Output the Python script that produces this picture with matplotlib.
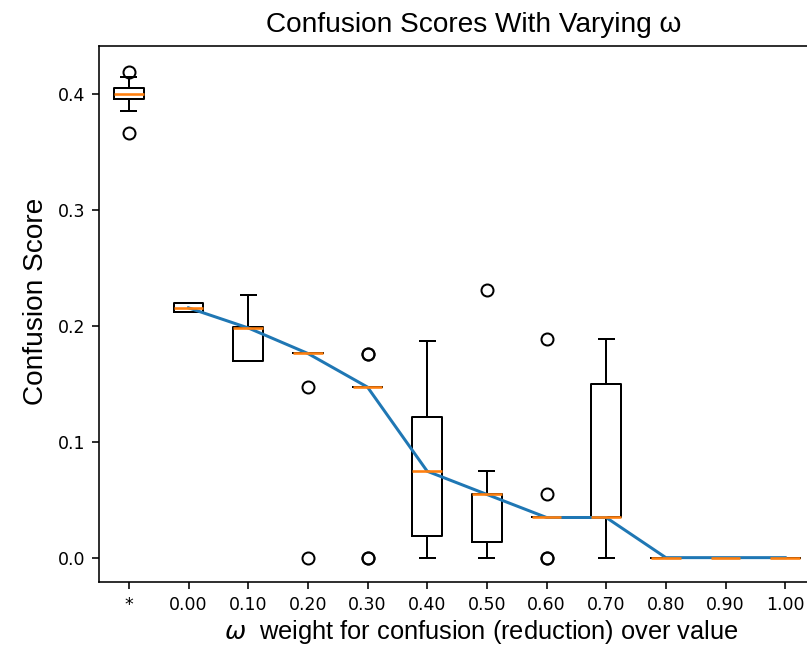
import matplotlib
matplotlib.use("Agg")
import matplotlib.pyplot as plt

# values
labels = ['*', '0.00', '0.10', '0.20', '0.30', '0.40', '0.50', '0.60', '0.70', '0.80', '0.90', '1.00']
med = [0.400, 0.2153, 0.198, 0.176, 0.147, 0.0745, 0.0545, 0.0346, 0.0346, 0.0, 0.0, 0.0]
q1 = [0.3957, 0.2119, 0.1697, 0.176, 0.147, 0.0185, 0.0133, 0.0346, 0.0346, 0.0, 0.0, 0.0]
q3 = [0.405, 0.2196, 0.1985, 0.176, 0.147, 0.1212, 0.0545, 0.0346, 0.1495, 0.0, 0.0, 0.0]
whislo = [0.3847, 0.2119, 0.1697, 0.176, 0.147, 0.0, 0.0, 0.0346, 0.0, 0.0, 0.0, 0.0]
whishi = [0.4144, 0.2196, 0.2263, 0.176, 0.147, 0.187, 0.0745, 0.0346, 0.1885, 0.0, 0.0, 0.0]
fliers = [[0.419, 0.366], [], [], [0.147, 0.0], [0.1758, 0.1758, 0.0, 0.0], [],
          [0.2306], [0.1885, 0.0545, 0.0, 0.0], [], [], [], []]

stats = []
for i in range(len(labels)):
    stats.append(dict(med=med[i], q1=q1[i], q3=q3[i], whislo=whislo[i],
                      whishi=whishi[i], fliers=fliers[i], label=labels[i]))

dpi = 144
fig = plt.figure(figsize=(807 / dpi, 645 / dpi), dpi=dpi)
ax = fig.add_axes([99 / 807, 63 / 645, 716 / 807, 536 / 645])

positions = list(range(1, len(labels) + 1))
ax.bxp(stats, positions=positions, widths=0.5,
       medianprops=dict(color='C1', linewidth=1.3))
ax.plot(positions[1:], med[1:])

ax.set_xlim(0.5, 12.5)
ax.set_ylim(-0.021, 0.441)
ax.set_yticks([0.0, 0.1, 0.2, 0.3, 0.4])
ax.tick_params(labelsize=8.7)

ax.set_title('Confusion Scores With Varying ω', fontname='Liberation Sans',
             fontsize=14, x=0.524, pad=7)
ax.set_ylabel('Confusion Score', fontname='Liberation Sans', fontsize=14, y=0.524)
ax.set_xlabel(r'$\omega$  weight for confusion (reduction) over value',
              fontname='Liberation Sans', fontsize=12.7, x=0.534, labelpad=2)

fig.savefig('out.png', dpi=dpi)
